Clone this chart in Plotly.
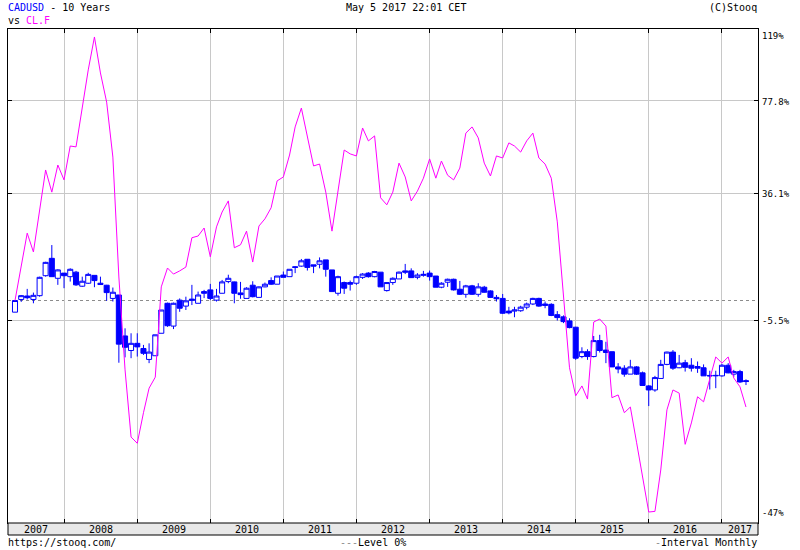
import math
import pandas as pd
import plotly.graph_objects as go

# ---------------- data (percent change vs. start, monthly) ----------------
months = pd.date_range("2007-05-01", periods=121, freq="MS")

cad_open = [
    -3.3, 0.3, 1.3, 0.3, 1.4, 7.4, 12.9, 6.6, 8.2, 7.1,
    8.5, 4.2, 5.1, 7.5, 5.1, 4.5, 0.6, 1.6, -9.7, -13.4,
    -11.6, -12.9, -15.6, -14.7, -9.0, -0.8, -7.1, 0.1, -1.6, 0.4,
    -0.8, 2.6, 3.1, 0.1, 2.1, 5.6, 5.5, 2.2, 0.6, 4.5,
    0.9, 4.0, 5.9, 4.8, 7.6, 7.1, 10.2, 10.4, 12.6, 10.8,
    11.0, 12.4, 9.2, 2.1, 5.3, 5.3, 5.1, 6.9, 8.2, 7.1,
    8.5, 2.9, 5.3, 6.4, 8.9, 8.9, 6.9, 7.5, 8.2, 7.3,
    3.9, 5.4, 6.3, 3.3, 1.8, 4.3, 1.8, 3.9, 2.8, 0.9,
    0.6, -3.0, -3.0, -2.9, -1.9, -1.0, 0.6, -1.0, -1.1, -4.0,
    -4.6, -5.7, -7.4, -14.9, -13.7, -14.9, -10.9, -13.3, -13.7, -17.4,
    -17.7, -19.1, -17.4, -18.8, -21.8, -22.7, -20.1, -16.8, -13.8, -17.6,
    -16.4, -17.0, -17.3, -17.6, -19.4, -19.5, -19.5, -17.0, -19.1, -18.5,
    -20.6,
]
cad_high = [
    0.0, 1.6, 3.4, 2.3, 7.1, 11.8, 17.3, 9.4, 8.2, 9.7,
    8.9, 7.1, 8.3, 7.5, 7.1, 4.6, 3.8, 1.6, -7.7, -9.0,
    -9.0, -12.0, -11.6, -9.4, -2.7, -0.6, -0.6, 0.6, 1.1, 4.6,
    2.6, 3.1, 4.9, 3.4, 6.1, 7.7, 5.6, 5.5, 3.9, 5.7,
    4.1, 5.3, 6.9, 7.3, 8.7, 9.4, 10.4, 12.7, 12.6, 10.8,
    13.2, 12.4, 9.2, 7.4, 5.6, 5.9, 7.4, 8.2, 8.5, 8.9,
    8.5, 5.4, 6.9, 8.7, 11.1, 9.7, 8.2, 8.9, 9.0, 7.3,
    5.4, 6.5, 6.5, 5.8, 4.6, 4.6, 5.1, 4.3, 3.0, 1.6,
    1.9, -1.8, -1.8, -1.5, -0.6, 0.8, 0.8, -0.3, -0.8, -3.0,
    -4.2, -5.0, -7.3, -12.6, -13.1, -9.7, -9.4, -11.2, -13.7, -16.5,
    -17.0, -15.7, -17.2, -18.5, -21.6, -19.5, -15.7, -13.7, -13.3, -14.5,
    -15.7, -15.3, -16.1, -16.8, -18.3, -18.3, -16.7, -16.5, -18.1, -18.1,
    -20.3,
]
cad_low = [
    -3.3, -0.4, 0.3, -0.8, 1.1, 7.1, 7.1, 4.6, 3.6, 5.6,
    4.3, 4.0, 4.9, 3.9, 4.6, -0.1, -0.3, -16.4, -15.1, -15.3,
    -14.9, -14.5, -16.5, -14.7, -9.0, -7.3, -7.9, -3.2, -2.7, -1.3,
    -0.8, 0.7, 0.1, -0.3, 2.1, 5.1, -0.8, 0.5, 0.6, 0.9,
    0.9, 3.9, 4.6, 4.8, 6.9, 7.1, 8.2, 10.2, 9.0, 8.2,
    9.7, 7.1, 2.6, 1.4, 1.9, 2.9, 4.6, 6.4, 6.8, 6.9,
    4.0, 2.6, 4.6, 6.4, 7.9, 6.8, 6.3, 7.1, 5.9, 3.9,
    3.6, 4.0, 2.9, 1.6, 0.8, 1.6, 1.1, 2.3, 0.8, -0.3,
    -3.8, -3.9, -4.7, -3.2, -2.5, -1.3, -1.8, -2.2, -4.4, -5.6,
    -6.3, -7.7, -15.7, -15.3, -15.7, -15.1, -13.9, -16.5, -17.4, -18.9,
    -19.7, -19.1, -19.3, -21.8, -26.2, -23.1, -20.1, -17.0, -18.1, -17.7,
    -18.5, -18.5, -18.8, -19.5, -22.6, -22.3, -19.7, -18.9, -19.7, -21.1,
    -21.6,
]
cad_close = [
    0.0, 1.4, 0.8, 1.5, 6.9, 11.6, 7.1, 9.2, 7.4, 9.4,
    4.6, 5.7, 7.8, 5.9, 4.7, 2.3, 2.4, -11.8, -12.6, -11.6,
    -12.5, -14.1, -13.8, -9.4, -2.7, -7.0, -0.8, -2.2, -0.1, 0.1,
    1.6, 2.1, 0.6, 1.3, 5.5, 6.6, 2.1, 1.7, 3.6, 1.1,
    4.0, 4.8, 4.8, 7.3, 6.9, 9.4, 10.0, 12.1, 10.0, 10.4,
    12.1, 9.4, 2.6, 7.1, 3.6, 4.8, 7.1, 7.9, 7.1, 8.7,
    4.0, 5.3, 6.6, 8.5, 8.5, 6.8, 7.6, 7.8, 7.1, 3.9,
    5.1, 6.3, 3.1, 1.8, 4.3, 1.8, 4.0, 2.4, 0.9, 0.5,
    -3.6, -3.5, -2.7, -1.9, -1.0, 0.6, -1.6, -1.4, -4.2, -4.8,
    -5.9, -7.5, -15.3, -13.7, -14.9, -10.9, -13.4, -13.9, -17.4, -17.9,
    -19.1, -17.4, -19.1, -21.7, -22.7, -19.9, -16.8, -13.8, -17.7, -16.5,
    -17.5, -17.7, -17.7, -19.5, -19.5, -19.4, -17.0, -18.8, -18.5, -20.9,
    -20.8,
]
clf_close = [
    0.0, 10.8, 21.4, 15.0, 29.8, 45.6, 36.6, 47.7, 41.5, 56.0,
    55.6, 74.0, 94.2, 113.5, 92.5, 77.0, 51.1, 7.0, -18.1, -32.5,
    -33.7, -27.6, -22.3, -19.8, 4.0, 9.8, 7.9, 8.9, 10.1, 19.8,
    20.4, 23.2, 13.4, 23.6, 29.0, 33.2, 16.4, 17.4, 22.1, 11.7,
    23.9, 26.5, 30.6, 41.1, 42.7, 52.0, 64.8, 74.0, 61.0, 47.3,
    48.1, 36.6, 22.1, 37.4, 54.2, 52.5, 51.6, 64.3, 58.3, 60.6,
    34.4, 31.7, 36.6, 48.5, 42.7, 33.2, 37.0, 42.2, 50.3, 42.2,
    49.4, 43.4, 41.5, 46.4, 61.9, 64.8, 59.7, 48.5, 43.1, 51.6,
    50.7, 57.4, 56.0, 53.3, 58.3, 61.9, 50.7, 48.1, 42.2, 25.4,
    2.2, -17.6, -24.0, -21.8, -24.7, -6.0, -5.2, -7.1, -24.4, -23.8,
    -27.6, -26.4, -33.5, -39.8, -45.6, -45.5, -38.6, -27.0, -22.7, -23.4,
    -33.9, -29.7, -24.2, -25.3, -20.5, -15.0, -16.5, -15.0, -20.0, -22.0,
    -26.4,
]

y_tick_pcts = [77.8, 36.1, -5.5]
y_tick_labels = ["77.8%", "36.1%", "-5.5%"]
y_top_label, y_bottom_label = "119%", "-47%"
years = list(range(2007, 2018))

# ---------------- style ----------------
BLUE = "#0000FF"
MAGENTA = "#FF00FF"
GRID = "#C8C8C8"
FONT = "DejaVu Sans Mono"

X_RANGE = ["2007-03-27", "2017-06-30"]
Y_RANGE = [-0.278125, 0.339375]  # log10 of (1 + pct/100)
PLOT_L, PLOT_W, PLOT_H = 8, 750, 494


def ratio(vals):
    return [1 + v / 100.0 for v in vals]


def yfrac(pct):
    return (math.log10(1 + pct / 100.0) - Y_RANGE[0]) / (Y_RANGE[1] - Y_RANGE[0])


def xfrac(px):
    return (px - PLOT_L) / PLOT_W


fig = go.Figure()
fig.add_trace(go.Candlestick(
    x=months,
    open=ratio(cad_open), high=ratio(cad_high),
    low=ratio(cad_low), close=ratio(cad_close),
    increasing=dict(line=dict(color=BLUE, width=1), fillcolor="#FFFFFF"),
    decreasing=dict(line=dict(color=BLUE, width=1), fillcolor=BLUE),
    whiskerwidth=0, showlegend=False, hoverinfo="skip",
))
fig.add_trace(go.Scatter(
    x=months, y=ratio(clf_close), mode="lines",
    line=dict(color=MAGENTA, width=1), showlegend=False, hoverinfo="skip",
))

shapes = [
    dict(type="line", xref="paper", yref="paper", x0=0, x1=1,
         y0=yfrac(0), y1=yfrac(0), layer="below",
         line=dict(color="#8C8C8C", width=1, dash="3px,3px")),
    dict(type="rect", xref="paper", yref="paper", x0=0, x1=1,
         y0=-12 / PLOT_H, y1=0, fillcolor="#E8E8E8",
         line=dict(color="black", width=1)),
]

ylab_font = dict(family=FONT, size=9, color="black")
ann = []
for p, t in zip(y_tick_pcts, y_tick_labels):
    ann.append(dict(xref="paper", yref="paper", x=1, y=yfrac(p), xanchor="left",
                    yanchor="middle", xshift=2, yshift=-1, text=t, showarrow=False,
                    font=ylab_font))
ann.append(dict(xref="paper", yref="paper", x=1, y=1, xanchor="left", yanchor="middle",
                xshift=2, yshift=-7, text=y_top_label, showarrow=False, font=ylab_font))
ann.append(dict(xref="paper", yref="paper", x=1, y=0, xanchor="left", yanchor="middle",
                xshift=2, yshift=10, text=y_bottom_label, showarrow=False, font=ylab_font))

x0, x1 = pd.Timestamp(X_RANGE[0]), pd.Timestamp(X_RANGE[1])
for yr in years:
    s = max(pd.Timestamp(f"{yr}-01-01"), x0)
    e = min(pd.Timestamp(f"{yr + 1}-01-01"), x1)
    mid = s + (e - s) / 2
    ann.append(dict(xref="x", yref="paper", x=mid, y=-6 / PLOT_H, xanchor="center",
                    yanchor="middle", text=str(yr), showarrow=False,
                    font=dict(family=FONT, size=10, color="black")))

hfont = dict(family=FONT, size=10, color="black")
ann += [
    dict(xref="paper", yref="paper", x=0, y=1, xanchor="left", yanchor="middle",
         yshift=22, xshift=-2, showarrow=False,
         text=f"<span style='color:{BLUE}'>CADUSD</span> - 10 Years", font=hfont),
    dict(xref="paper", yref="paper", x=0, y=1, xanchor="left", yanchor="middle",
         yshift=8.5, xshift=-2, showarrow=False,
         text=f"vs <span style='color:{MAGENTA}'>CL.F</span>", font=hfont),
    dict(xref="paper", yref="paper", x=xfrac(406), y=1, xanchor="center",
         yanchor="middle", yshift=22, showarrow=False,
         text="May 5 2017 22:01 CET", font=hfont),
    dict(xref="paper", yref="paper", x=1, y=1, xanchor="right", yanchor="middle",
         yshift=22, xshift=1, showarrow=False, text="(C)Stooq", font=hfont),
    dict(xref="paper", yref="paper", x=0, y=0, xanchor="left", yanchor="middle",
         yshift=-19, xshift=-2, showarrow=False, text="https://stooq.com/", font=hfont),
    dict(xref="paper", yref="paper", x=xfrac(338), y=0, xanchor="left",
         yanchor="middle", yshift=-19, showarrow=False,
         text="<span style='color:#8C8C8C'>---</span>Level 0%", font=hfont),
    dict(xref="paper", yref="paper", x=1, y=0, xanchor="right", yanchor="middle",
         yshift=-19, xshift=1, showarrow=False,
         text="<span style='color:#8C8C8C'>-</span>Interval Monthly", font=hfont),
]

fig.update_layout(
    width=800, height=550,
    margin=dict(l=PLOT_L, r=800 - PLOT_L - PLOT_W, t=29, b=550 - 29 - PLOT_H, pad=0),
    paper_bgcolor="white", plot_bgcolor="white",
    showlegend=False, boxgap=0.1, boxgroupgap=0,
    shapes=shapes, annotations=ann,
    xaxis=dict(
        type="date", range=X_RANGE, rangeslider=dict(visible=False),
        tickmode="array", tickvals=[f"{y}-01-01" for y in years[1:]],
        showticklabels=False, showgrid=True, gridcolor=GRID, gridwidth=1,
        ticks="inside", ticklen=4, tickcolor="black", tickwidth=1,
        showline=True, linecolor="black", linewidth=1, mirror="ticks",
        zeroline=False, fixedrange=True,
    ),
    yaxis=dict(
        type="log", range=Y_RANGE, side="right",
        tickmode="array", tickvals=ratio(y_tick_pcts),
        showticklabels=False, showgrid=True, gridcolor=GRID, gridwidth=1,
        ticks="inside", ticklen=4, tickcolor="black", tickwidth=1,
        showline=True, linecolor="black", linewidth=1, mirror="ticks",
        zeroline=False, fixedrange=True,
    ),
)

fig.write_html(
    "out.html",
    config={"displayModeBar": False},
    post_script="document.body.style.margin='0px';"
                "document.documentElement.style.overflow='hidden';",
)
